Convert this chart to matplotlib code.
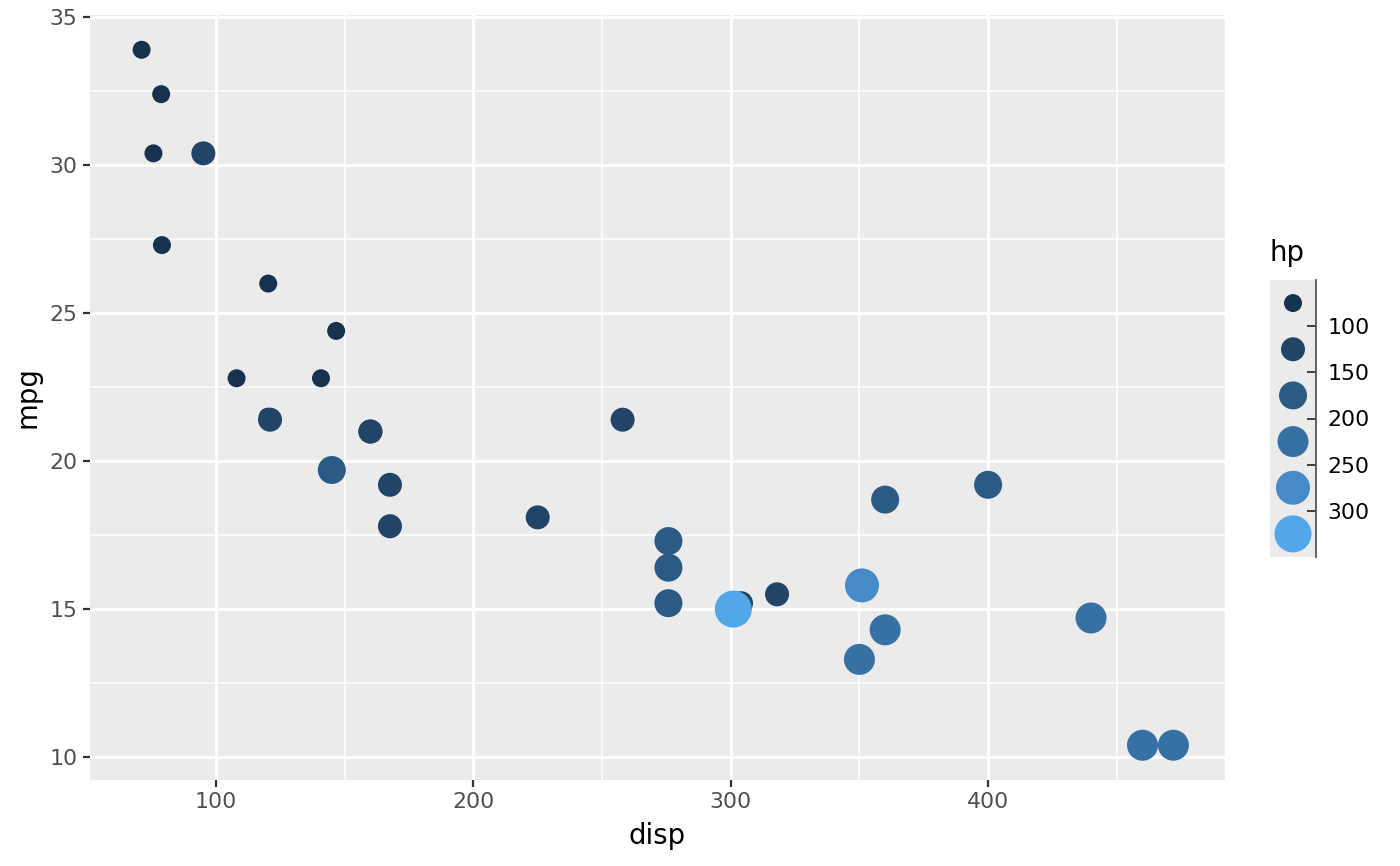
import numpy as np
import matplotlib
matplotlib.use('Agg')
import matplotlib.pyplot as plt

# mtcars
disp = [160, 160, 108, 258, 360, 225, 360, 146.7, 140.8, 167.6, 167.6, 275.8,
        275.8, 275.8, 472, 460, 440, 78.7, 75.7, 71.1, 120.1, 318, 304, 350,
        400, 79, 120.3, 95.1, 351, 145, 301, 121]
mpg = [21.0, 21.0, 22.8, 21.4, 18.7, 18.1, 14.3, 24.4, 22.8, 19.2, 17.8, 16.4,
       17.3, 15.2, 10.4, 10.4, 14.7, 32.4, 30.4, 33.9, 21.5, 15.5, 15.2, 13.3,
       19.2, 27.3, 26.0, 30.4, 15.8, 19.7, 15.0, 21.4]
hp = [110, 110, 93, 110, 175, 105, 245, 62, 95, 123, 123, 180, 180, 180, 205,
      215, 230, 66, 52, 65, 97, 150, 150, 245, 175, 66, 91, 113, 264, 175, 335, 109]

hp_breaks = [100, 150, 200, 250, 300]
bin_colors = ['#17324F', '#214467', '#2B5B85', '#3771A4', '#468AC7', '#52A7E8']
bin_diam_px = [18, 24, 28, 31, 34, 37]

dpi = 100
def size_of(d):
    return (d * 72 / dpi) ** 2

bins = np.digitize(hp, hp_breaks, right=True)

fig = plt.figure(figsize=(14, 8.66), dpi=dpi)
ax = fig.add_axes([90 / 1400, 86 / 866, (1225 - 90) / 1400, (780 - 15) / 866])
ax.set_facecolor('#EBEBEB')
for s in ax.spines.values():
    s.set_visible(False)

ax.scatter(disp, mpg, s=[size_of(bin_diam_px[b]) for b in bins],
           c=[bin_colors[b] for b in bins], linewidths=0, zorder=3)

ax.set_xlim(51.05, 492.05)
ax.set_ylim(9.225, 35.075)
ax.set_xticks([100, 200, 300, 400])
ax.set_yticks([10, 15, 20, 25, 30, 35])
ax.set_xticks([150, 250, 350, 450], minor=True)
ax.set_yticks([12.5, 17.5, 22.5, 27.5, 32.5], minor=True)
ax.grid(which='major', color='white', linewidth=2.2, zorder=0)
ax.grid(which='minor', color='white', linewidth=1.1, zorder=0)
ax.set_axisbelow(True)
ax.tick_params(which='major', length=5, width=1.6, color='#333333',
               labelcolor='#4D4D4D', labelsize=15.8, pad=4)
ax.tick_params(which='minor', length=0)
ax.set_xlabel('disp', fontsize=19.8, labelpad=7)
ax.set_ylabel('mpg', fontsize=19.8, labelpad=6)

# binned legend
lax = fig.add_axes([1270 / 1400, (866 - 557) / 866, 46 / 1400, 277 / 866])
lax.set_facecolor('#EBEBEB')
for k in ['top', 'left', 'bottom']:
    lax.spines[k].set_visible(False)
lax.spines['right'].set_color('#555555')
lax.spines['right'].set_linewidth(1.3)
lax.set_xlim(0, 1)
lax.set_ylim(6, 0)
nb = len(bin_colors)
lax.scatter([0.5] * nb, np.arange(nb) + 0.5, s=[size_of(d) for d in bin_diam_px],
            c=bin_colors, linewidths=0, clip_on=False)
lax.set_xticks([])
lax.yaxis.tick_right()
lax.set_yticks(np.arange(1, nb))
lax.set_yticklabels([str(b) for b in hp_breaks])
lax.tick_params(axis='y', direction='in', length=6.5, width=1.3, color='#333333',
                labelsize=15.8, labelcolor='black', pad=8)
fig.text(1270 / 1400, (866 - 253) / 866, 'hp', fontsize=19.8, va='center', ha='left')

fig.savefig('out.png', dpi=dpi)
